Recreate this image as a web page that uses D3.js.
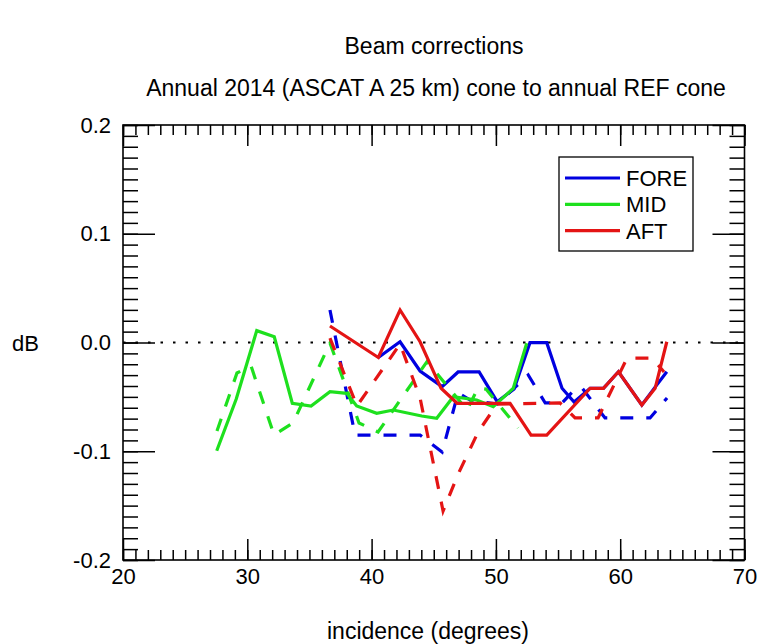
<!DOCTYPE html>
<html>
<head>
<meta charset="utf-8">
<script src="https://cdn.jsdelivr.net/npm/d3@7"></script>
<style>
  body { margin: 0; background: #fff; }
  svg text { font-family: "Liberation Sans", Arial, Helvetica, sans-serif; fill: #000; }
</style>
</head>
<body>
<div id="chart"></div>
<script>
// incidence (deg) / correction (dB)
const foreSolidX = [40.54, 42.29, 43.90, 45.67, 46.96, 48.65, 50.10, 51.46, 52.74, 54.09, 55.32, 56.29, 57.58, 58.65, 59.86, 61.74, 62.81, 63.75];
const foreSolidY = [-0.0138, 0.0007, -0.0262, -0.0406, -0.0271, -0.0271, -0.0544, -0.0428, -0.0002, -0.0002, -0.0421, -0.0547, -0.0421, -0.0421, -0.0269, -0.0575, -0.0410, -0.0269];
const foreDashX = [36.65, 38.67, 43.90, 45.67, 46.96, 47.93, 50.10, 52.60, 53.97, 55.32, 56.37, 56.93, 58.78, 62.40, 63.77];
const foreDashY = [0.0299, -0.0851, -0.0851, -0.1007, -0.0464, -0.0529, -0.0566, -0.0299, -0.0556, -0.0556, -0.0428, -0.0418, -0.0694, -0.0694, -0.0510];

const midSolidX = [27.54, 29.11, 30.76, 32.17, 33.62, 35.13, 36.65, 38.00, 38.80, 40.41, 41.75, 44.03, 45.24, 46.57, 48.45, 49.79, 51.40, 52.48];
const midSolidY = [-0.0995, -0.0520, 0.0109, 0.0053, -0.0559, -0.0584, -0.0452, -0.0467, -0.0584, -0.0651, -0.0621, -0.0676, -0.0697, -0.0498, -0.0529, -0.0590, -0.0421, -0.0007];
const midDashX = [27.56, 29.17, 30.30, 32.15, 33.68, 36.65, 38.99, 40.52, 44.46, 47.68, 48.56, 49.20, 51.78];
const midDashY = [-0.0814, -0.0280, -0.0216, -0.0850, -0.0740, -0.0005, -0.0740, -0.0823, -0.0175, -0.0621, -0.0418, -0.0428, -0.0786];

const aftSolidX = [36.65, 40.54, 42.29, 43.90, 45.59, 46.88, 51.14, 52.83, 54.09, 57.58, 58.65, 59.86, 61.74, 62.81, 63.75];
const aftSolidY = [0.0152, -0.0138, 0.0299, 0.0007, -0.0421, -0.0559, -0.0559, -0.0851, -0.0851, -0.0421, -0.0421, -0.0269, -0.0575, -0.0421, 0.0007];
const aftDashX = [36.65, 38.82, 42.29, 43.90, 45.75, 46.96, 48.57, 50.10, 55.16, 56.37, 58.22, 60.55, 62.56, 63.53];
const aftDashY = [0.0041, -0.0584, -0.0014, -0.0510, -0.1550, -0.1210, -0.0823, -0.0566, -0.0556, -0.0694, -0.0694, -0.0143, -0.0143, -0.0271];

const beams = ["FORE", "MID", "AFT"];
const beamColors = ["#0000e0", "#1ee01e", "#e41414"];

const xMajorTicks = [20, 30, 40, 50, 60, 70];
const yMajorTicks = [-0.2, -0.1, 0.0, 0.1, 0.2];

const W = 757, H = 644;
const plotL = 123, plotR = 744.5, plotT = 125, plotB = 560;

const x = d3.scaleLinear().domain([20, 70]).range([plotL, plotR]);
const y = d3.scaleLinear().domain([-0.2, 0.2]).range([plotB, plotT]);

const svg = d3.select("#chart").append("svg")
    .attr("width", W)
    .attr("height", H);

svg.append("rect").attr("width", W).attr("height", H).attr("fill", "#fff");

// titles
svg.append("text")
    .attr("x", 434).attr("y", 54)
    .attr("text-anchor", "middle")
    .style("font-size", "23px")
    .text("Beam corrections");
svg.append("text")
    .attr("x", 436).attr("y", 96)
    .attr("text-anchor", "middle")
    .style("font-size", "23px")
    .text("Annual 2014 (ASCAT A 25 km) cone to annual REF cone");

// axes (ticks point inwards, IDL style)
const xMinor = d3.range(20, 71, 1);
const yMinor = d3.range(-20, 21, 1).map(d => d / 100);

function styleAxis(g) {
    g.select(".domain").remove();
    g.selectAll(".tick line").attr("stroke", "#000").attr("stroke-width", 1.5);
    g.selectAll(".tick text").style("font-size", "22px").attr("fill", "#000");
}

svg.append("g").attr("transform", `translate(0,${plotB})`)
    .call(d3.axisBottom(x).tickValues(xMinor).tickSize(-10).tickFormat(""))
    .call(styleAxis);
svg.append("g").attr("transform", `translate(0,${plotB})`)
    .call(d3.axisBottom(x).tickValues(xMajorTicks).tickSize(-21).tickPadding(8).tickFormat(d => d))
    .call(styleAxis);
svg.append("g").attr("transform", `translate(0,${plotT})`)
    .call(d3.axisTop(x).tickValues(xMinor).tickSize(-10).tickFormat(""))
    .call(styleAxis);
svg.append("g").attr("transform", `translate(0,${plotT})`)
    .call(d3.axisTop(x).tickValues(xMajorTicks).tickSize(-21).tickFormat(""))
    .call(styleAxis);

svg.append("g").attr("transform", `translate(${plotL},0)`)
    .call(d3.axisLeft(y).tickValues(yMinor).tickSize(-15).tickFormat(""))
    .call(styleAxis);
svg.append("g").attr("transform", `translate(${plotL},0)`)
    .call(d3.axisLeft(y).tickValues(yMajorTicks).tickSize(-32).tickPadding(12).tickFormat(d => d.toFixed(1)))
    .call(styleAxis);
svg.append("g").attr("transform", `translate(${plotR},0)`)
    .call(d3.axisRight(y).tickValues(yMinor).tickSize(-15).tickFormat(""))
    .call(styleAxis);
svg.append("g").attr("transform", `translate(${plotR},0)`)
    .call(d3.axisRight(y).tickValues(yMajorTicks).tickSize(-32).tickFormat(""))
    .call(styleAxis);

svg.append("rect")
    .attr("x", plotL).attr("y", plotT)
    .attr("width", plotR - plotL).attr("height", plotB - plotT)
    .attr("fill", "none").attr("stroke", "#000").attr("stroke-width", 1.6);

// axis titles
svg.append("text")
    .attr("x", 12).attr("y", y(0) + 8)
    .style("font-size", "22px")
    .text("dB");
svg.append("text")
    .attr("x", 428).attr("y", 639)
    .attr("text-anchor", "middle")
    .style("font-size", "23px")
    .text("incidence (degrees)");

// zero line
svg.append("line")
    .attr("x1", x(20)).attr("x2", x(70))
    .attr("y1", y(0)).attr("y2", y(0))
    .attr("stroke", "#000").attr("stroke-width", 1.8)
    .attr("stroke-dasharray", "2.5,10");

const line = d3.line().x(d => x(d[0])).y(d => y(d[1]));
const zip = (a, b) => a.map((v, i) => [v, b[i]]);

const series = [
    { xs: foreDashX, ys: foreDashY, color: beamColors[0], dash: true },
    { xs: foreSolidX, ys: foreSolidY, color: beamColors[0], dash: false },
    { xs: midDashX, ys: midDashY, color: beamColors[1], dash: true },
    { xs: midSolidX, ys: midSolidY, color: beamColors[1], dash: false },
    { xs: aftDashX, ys: aftDashY, color: beamColors[2], dash: true },
    { xs: aftSolidX, ys: aftSolidY, color: beamColors[2], dash: false }
];

svg.selectAll(".series")
    .data(series)
    .enter().append("path")
    .attr("class", "series")
    .attr("d", d => line(zip(d.xs, d.ys)))
    .attr("fill", "none")
    .attr("stroke", d => d.color)
    .attr("stroke-width", 3.2)
    .attr("stroke-linejoin", "miter")
    .attr("stroke-dasharray", d => d.dash ? "13,13" : null);

// legend
const legend = svg.append("g");
legend.append("rect")
    .attr("x", 559).attr("y", 157)
    .attr("width", 134).attr("height", 94)
    .attr("fill", "#fff").attr("stroke", "#000").attr("stroke-width", 1.3);

beams.forEach((name, i) => {
    const ly = 178 + i * 26.3;
    legend.append("line")
        .attr("x1", 565).attr("x2", 620)
        .attr("y1", ly).attr("y2", ly)
        .attr("stroke", beamColors[i]).attr("stroke-width", 3.2);
    legend.append("text")
        .attr("x", 626).attr("y", ly + 8)
        .style("font-size", "22px")
        .text(name);
});
</script>
</body>
</html>
